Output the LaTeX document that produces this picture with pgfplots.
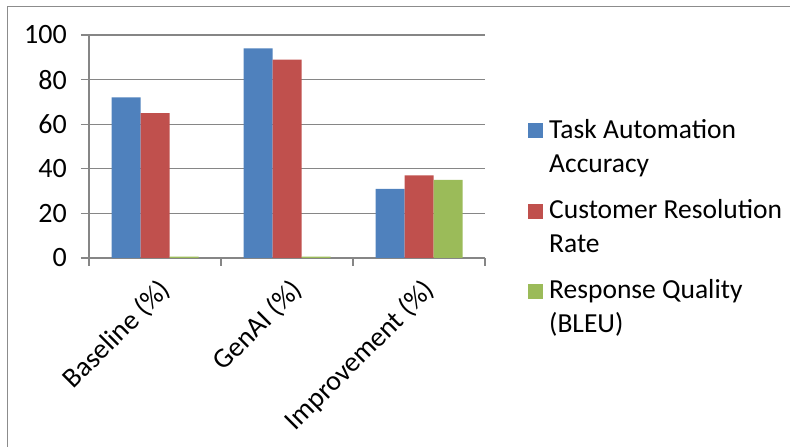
\documentclass[border=0pt]{standalone}
\usepackage{pgfplots}
\pgfplotsset{compat=1.18}
\usepackage{fontspec}
\setmainfont{Carlito}
\definecolor{cblue}{HTML}{4F81BD}
\definecolor{cred}{HTML}{C0504D}
\definecolor{cgreen}{HTML}{9BBB59}
\definecolor{gridgray}{HTML}{868686}
\definecolor{framegray}{HTML}{8C8C8C}
\begin{document}
\begin{tikzpicture}[x=1pt,y=1pt]
\useasboundingbox (0,0) rectangle (790,447);
\draw[framegray, line width=1.5pt] (7.3,0) -- (7.3,440.3) -- (790,440.3);
\begin{axis}[
  at={(89pt,189pt)}, anchor=south west,
  scale only axis, width=396pt, height=223pt,
  xmin=-0.5, xmax=2.5, ymin=0, ymax=100,
  enlargelimits=false,
  ybar=0pt, bar width=29pt,
  axis lines*=left,
  axis line style={gridgray, line width=1.3pt},
  ytick={0,20,...,100},
  ymajorgrids, grid style={gridgray, line width=1.3pt},
  xtick={-0.5,0.5,1.5,2.5}, xticklabels={},
  extra x ticks={0,1,2},
  extra x tick labels={Baseline (\%), GenAI (\%), Improvement (\%)},
  extra x tick style={major tick length=0pt, grid=none},
  tick align=outside, major tick length=8pt,
  tick style={gridgray, line width=1.3pt},
  /pgf/number format/assume math mode=true,
  every tick label/.append style={font=\fontsize{28}{33}\selectfont, text=black},
  yticklabel style={anchor=east, inner sep=0pt, xshift=-14pt},
  xticklabel style={rotate=45, anchor=north east, inner sep=0pt, xshift=-11.8pt, yshift=-15.1pt},
  legend style={draw=none, fill=none, inner sep=0pt, at={(1.1086,0.6448)}, anchor=north west,
    font=\fontsize{27.5}{34}\selectfont, column sep=6pt, row sep=21pt,
    nodes={anchor=base west, align=left, inner sep=0pt}},
  legend image code/.code={\fill[#1,draw=none] (0pt,34pt) rectangle (15pt,49pt);},
]
\addplot[fill=cblue, draw=none] coordinates {(0,72) (1,94) (2,31)};
\addlegendentry{Task Automation\strut\\Accuracy\strut}
\addplot[fill=cred, draw=none] coordinates {(0,65) (1,89) (2,37)};
\addlegendentry{Customer Resolution\strut\\Rate\strut}
\addplot[fill=cgreen, draw=none] coordinates {(0,0.6) (1,0.6) (2,35)};
\addlegendentry{Response Quality\strut\\(BLEU)\strut}
\end{axis}
\end{tikzpicture}
\end{document}
